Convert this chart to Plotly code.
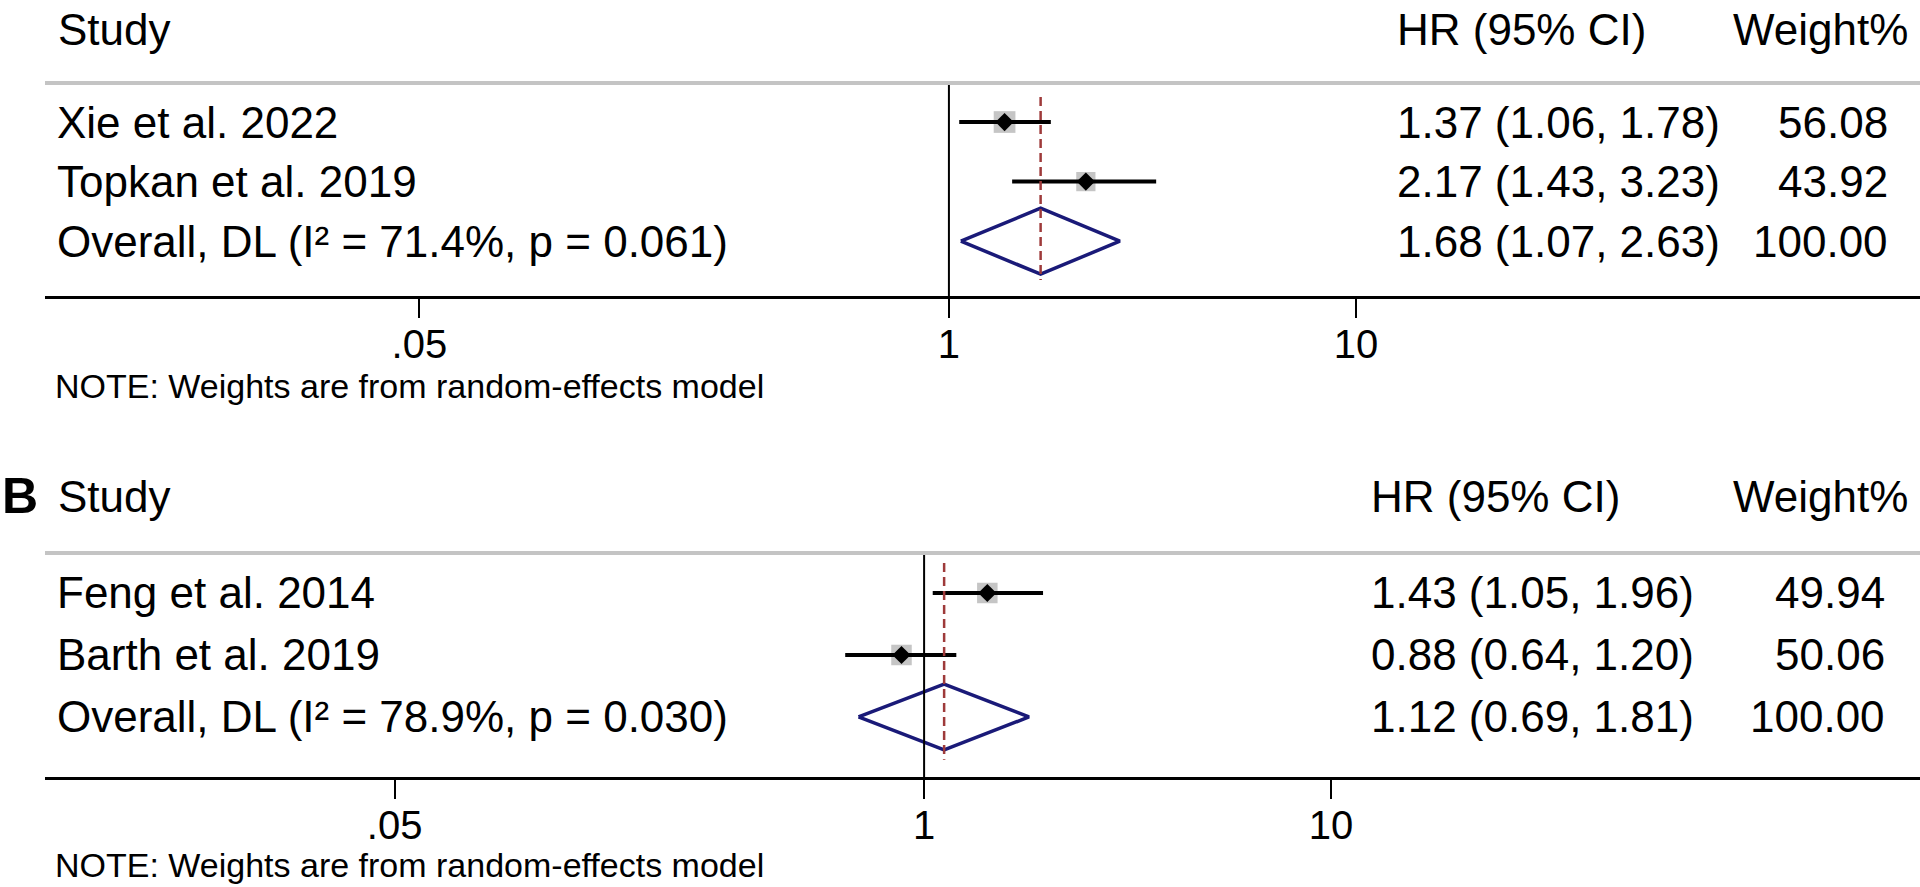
import math
import plotly.graph_objects as go

FONT = "Liberation Sans, Arial, sans-serif"

# ---------------- data ----------------
# Panel A
a_studies = ["Xie et al. 2022", "Topkan et al. 2019"]
a_hr = [1.37, 2.17]
a_lo = [1.06, 1.43]
a_hi = [1.78, 3.23]
a_weight = [56.08, 43.92]
a_overall_label = "Overall, DL (I² = 71.4%, p = 0.061)"
a_overall = [1.68, 1.07, 2.63]   # estimate, lower, upper
a_overall_weight = 100.00

# Panel B
b_studies = ["Feng et al. 2014", "Barth et al. 2019"]
b_hr = [1.43, 0.88]
b_lo = [1.05, 0.64]
b_hi = [1.96, 1.20]
b_weight = [49.94, 50.06]
b_overall_label = "Overall, DL (I² = 78.9%, p = 0.030)"
b_overall = [1.12, 0.69, 1.81]
b_overall_weight = 100.00

tick_vals = [0.05, 1, 10]
tick_text = [".05", "1", "10"]
header_study = "Study"
header_hr = "HR (95% CI)"
header_w = "Weight%"
note_text = "NOTE: Weights are from random-effects model"

# ---------------- layout constants ----------------
W, H = 1920, 887
BLACK = "#000000"
GREY_SQ = "#adadad"
NAVY = "#1a1a78"
DASH_RED = "#9e3a3a"
FS = 44

panels = [
    dict(studies=a_studies, hr=a_hr, lo=a_lo, hi=a_hi, w=a_weight,
         olab=a_overall_label, ov=a_overall, ow=a_overall_weight,
         xa="x", ya="y", xaxis="xaxis", yaxis="yaxis",
         ydom=(1 - 296 / H, 1 - 83 / H), yrange=[3.92, 0.345],
         xrange=[-2.221, 2.386], diam_h=0.554, dash=(0.58, 3.65),
         hr_x=1395, w_x=1890, hw_x=1910, head_y=29, note_y=386, letter=None),
    dict(studies=b_studies, hr=b_hr, lo=b_lo, hi=b_hi, w=b_weight,
         olab=b_overall_label, ov=b_overall, ow=b_overall_weight,
         xa="x2", ya="y2", xaxis="xaxis2", yaxis="yaxis2",
         ydom=(1 - 777 / H, 1 - 553 / H), yrange=[3.968, 0.355],
         xrange=[-2.160, 2.447], diam_h=0.53, dash=(0.515, 3.69),
         hr_x=1369, w_x=1887, hw_x=1910, head_y=496, note_y=865, letter="B"),
]

fig = go.Figure()
shapes = []
annotations = []
layout_axes = {}

for p in panels:
    n = len(p["studies"])
    rows = list(range(1, n + 1))
    orow = n + 1

    # weight squares
    fig.add_trace(go.Scatter(
        x=p["hr"], y=rows, mode="markers", xaxis=p["xa"], yaxis=p["ya"],
        marker=dict(symbol="square", color=GREY_SQ,
                    size=[2.9 * math.sqrt(w) for w in p["w"]], line=dict(width=0)),
        hoverinfo="skip", showlegend=False))
    # CI lines
    cx, cy = [], []
    for lo, hi, r in zip(p["lo"], p["hi"], rows):
        cx += [lo, hi, None]
        cy += [r, r, None]
    fig.add_trace(go.Scatter(
        x=cx, y=cy, mode="lines", xaxis=p["xa"], yaxis=p["ya"],
        line=dict(color=BLACK, width=4), hoverinfo="skip", showlegend=False))
    # point estimates
    fig.add_trace(go.Scatter(
        x=p["hr"], y=rows, mode="markers", xaxis=p["xa"], yaxis=p["ya"],
        marker=dict(symbol="diamond", color=BLACK, size=14, line=dict(width=0)),
        hoverinfo="skip", showlegend=False))
    # overall diamond
    est, lo, hi = p["ov"]
    h = p["diam_h"]
    fig.add_trace(go.Scatter(
        x=[lo, est, hi, est, lo], y=[orow, orow - h, orow, orow + h, orow],
        mode="lines", xaxis=p["xa"], yaxis=p["ya"],
        line=dict(color=NAVY, width=3.5), hoverinfo="skip", showlegend=False))

    # null line at 1
    shapes.append(dict(type="line", xref=p["xa"], yref=p["ya"] + " domain",
                       x0=1, x1=1, y0=0, y1=1, line=dict(color=BLACK, width=2)))
    # dashed overall line
    shapes.append(dict(type="line", xref=p["xa"], yref=p["ya"],
                       x0=est, x1=est, y0=p["dash"][0], y1=p["dash"][1],
                       line=dict(color=DASH_RED, width=2.5, dash="9px,5px")))
    # grey separator line at top
    shapes.append(dict(type="line", xref="paper", yref=p["ya"] + " domain",
                       x0=45 / W, x1=1, y0=1, y1=1,
                       line=dict(color="#c4c4c4", width=4)))

    # row texts
    labels = p["studies"] + [p["olab"]]
    hr_txt = [f"{a:.2f} ({b:.2f}, {c:.2f})" for a, b, c in zip(p["hr"], p["lo"], p["hi"])]
    hr_txt.append(f"{est:.2f} ({lo:.2f}, {hi:.2f})")
    w_txt = [f"{w:.2f}" for w in p["w"]] + [f"{p['ow']:.2f}"]
    for r, lab, ht, wt in zip(rows + [orow], labels, hr_txt, w_txt):
        annotations.append(dict(text=lab, xref="paper", yref=p["ya"], x=55 / W, y=r,
                                xanchor="left", yanchor="middle", showarrow=False,
                                font=dict(family=FONT, size=FS, color=BLACK)))
        annotations.append(dict(text=ht, xref="paper", yref=p["ya"], x=p["hr_x"] / W, y=r,
                                xanchor="left", yanchor="middle", showarrow=False,
                                font=dict(family=FONT, size=FS, color=BLACK)))
        annotations.append(dict(text=wt, xref="paper", yref=p["ya"], x=p["w_x"] / W, y=r,
                                xanchor="right", yanchor="middle", showarrow=False,
                                font=dict(family=FONT, size=FS, color=BLACK)))
    # headers
    hy = 1 - p["head_y"] / H
    annotations.append(dict(text=header_study, xref="paper", yref="paper", x=56 / W, y=hy,
                            xanchor="left", yanchor="middle", showarrow=False,
                            font=dict(family=FONT, size=FS, color=BLACK)))
    annotations.append(dict(text=header_hr, xref="paper", yref="paper", x=p["hr_x"] / W, y=hy,
                            xanchor="left", yanchor="middle", showarrow=False,
                            font=dict(family=FONT, size=FS, color=BLACK)))
    annotations.append(dict(text=header_w, xref="paper", yref="paper", x=p["hw_x"] / W, y=hy,
                            xanchor="right", yanchor="middle", showarrow=False,
                            font=dict(family=FONT, size=FS, color=BLACK)))
    if p["letter"]:
        annotations.append(dict(text="<b>" + p["letter"] + "</b>", xref="paper", yref="paper",
                                x=0, y=hy, xanchor="left", yanchor="middle", showarrow=False,
                                font=dict(family=FONT, size=50, color=BLACK)))
    # note
    annotations.append(dict(text=note_text, xref="paper", yref="paper", x=53 / W,
                            y=1 - p["note_y"] / H, xanchor="left", yanchor="middle",
                            showarrow=False, font=dict(family=FONT, size=34, color=BLACK)))

    layout_axes[p["xaxis"]] = dict(
        type="log", domain=[45 / W, 1], range=p["xrange"], anchor=p["ya"],
        showgrid=False, zeroline=False, showline=True, linecolor=BLACK, linewidth=3,
        ticks="outside", ticklen=19, tickwidth=2, tickcolor=BLACK,
        tickvals=tick_vals, ticktext=tick_text, ticklabelstandoff=-8,
        tickfont=dict(family=FONT, size=40, color=BLACK), fixedrange=True)
    layout_axes[p["yaxis"]] = dict(
        domain=list(p["ydom"]), range=p["yrange"], anchor=p["xa"],
        showgrid=False, zeroline=False, showline=False, showticklabels=False,
        ticks="", fixedrange=True)

fig.update_layout(
    width=W, height=H, margin=dict(l=0, r=0, t=0, b=0),
    paper_bgcolor="white", plot_bgcolor="white",
    showlegend=False, shapes=shapes, annotations=annotations, **layout_axes)

fig.write_html("out.html", config={"displayModeBar": False},
               post_script="document.body.style.margin='0';document.body.style.overflow='hidden';")
